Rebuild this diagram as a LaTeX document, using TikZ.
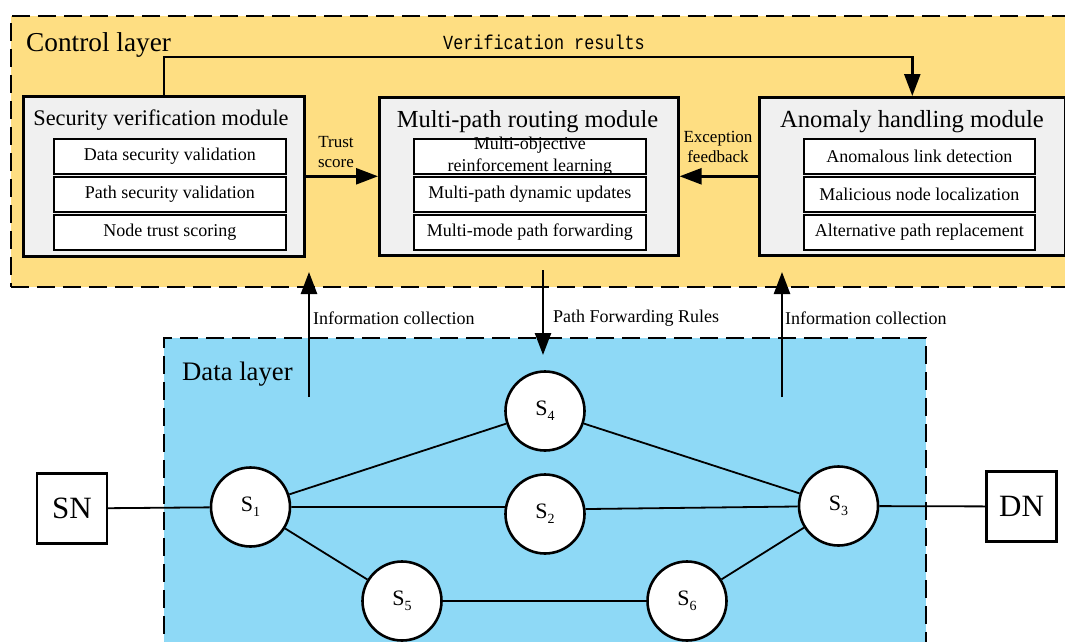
\documentclass[tikz,border=0pt]{standalone}
\usepackage{fontspec}
\setmainfont{Liberation Serif}
\newfontfamily\vmono{Liberation Mono}
\usetikzlibrary{arrows.meta}
\definecolor{ctrlfill}{RGB}{254,222,130}
\definecolor{datafill}{RGB}{142,217,246}
\definecolor{modfill}{RGB}{240,240,240}
\newcommand{\fsz}[1]{\fontsize{#1}{#1}\selectfont}
\newcommand{\Slabel}[1]{{\fsz{22}S}\raisebox{-5pt}{\fsz{14}#1}}
\begin{document}
\begin{tikzpicture}[x=1pt,y=-1pt,
  layerbox/.style={draw, line width=1.6pt, dash pattern=on 18pt off 8pt, anchor=north west, inner sep=0pt},
  modbox/.style={draw, line width=2.6pt, fill=modfill, anchor=north west, inner sep=0pt},
  subbox/.style={draw, line width=1.8pt, fill=white, anchor=north west, inner sep=0pt,
                 minimum height=35pt, minimum width=232pt, font=\fsz{18}},
  title/.style={inner sep=0pt},
  lbl/.style={inner sep=0pt, font=\fsz{18}},
  arr/.style={line width=2.5pt, -{Triangle[length=22pt,width=16pt]}},
  circ/.style={circle, draw, line width=2.6pt, fill=white, minimum size=79pt, inner sep=0pt},
  sqbox/.style={draw, line width=2.3pt, fill=white, minimum width=70pt, minimum height=70pt, inner sep=0pt, font=\fsz{31}},
  link/.style={line width=1.8pt}
]
\useasboundingbox (0,0) rectangle (1065,642);

% layers
\node[layerbox, fill=ctrlfill, minimum width=1070pt, minimum height=271pt] (ctrl) at (10,15) {};
\node[layerbox, fill=datafill, minimum width=762pt, minimum height=330pt] (data) at (163,337) {};
\node[title, anchor=west, font=\fsz{27.3}] (ctrltxt) at (26,45) {Control layer};
\node[title, anchor=west, font=\fsz{26.7}] (datatxt) at (182,374) {Data layer};

% modules
\node[modbox, minimum width=281pt, minimum height=160pt] (sec) at (22,95) {};
\node[modbox, minimum width=299pt, minimum height=158pt] (rout) at (378,96) {};
\node[modbox, minimum width=306pt, minimum height=158pt] (anom) at (758,96) {};

\node[title, font=\fsz{22.3}] (sectitle) at (161,120) {Security verification module};
\node[title, font=\fsz{24.5}] (routtitle) at (527.5,122) {Multi-path routing module};
\node[title, font=\fsz{24.6}] (anomtitle) at (912,122) {Anomaly handling module};

\node[subbox] (sa) at (53,138) {Data security validation};
\node[subbox] (sb) at (53,176) {Path security validation};
\node[subbox] (sc) at (53,214) {Node trust scoring};

\node[subbox] (ra) at (413,138) {};
\node[inner sep=0pt, align=center, font=\fontsize{18}{22}\selectfont] (ratxt) at (ra.center) {Multi-objective\\reinforcement learning};
\node[subbox] (rb) at (413,176) {Multi-path dynamic updates};
\node[subbox] (rc) at (413,214) {Multi-mode path forwarding};

\node[subbox, minimum width=231pt] (aa) at (803,138) {Anomalous link detection};
\node[subbox, minimum width=231pt] (ab) at (803,176) {Malicious node localization};
\node[subbox, minimum width=231pt] (ac) at (803,214) {Alternative path replacement};

% control-layer connectors
\draw[arr] (sec.north) -- ++(0,-38) -| (anom.north);
\node[inner sep=0pt] (vres) at (544,42) {\scalebox{0.84}[1]{\vmono\fsz{20}Verification results}};
\draw[arr] (sec.east) -- (rout.west);
\node[inner sep=0pt, align=center, font=\fontsize{17}{20}\selectfont] (trust) at (336,152) {Trust\\score};
\draw[arr] (anom.west) -- (rout.east);
\node[inner sep=0pt, align=center, font=\fontsize{17}{20}\selectfont] (excf) at (718,147) {Exception\\feedback};

% inter-layer arrows
\coordinate (icLa) at (309,397);
\coordinate (icLb) at (309,272);
\coordinate (pfa) at (543,270);
\coordinate (pfb) at (543,355);
\coordinate (icRa) at (782,397);
\coordinate (icRb) at (782,272);
\draw[arr] (icLa) -- (icLb);
\draw[arr] (pfa) -- (pfb);
\draw[arr] (icRa) -- (icRb);
\node[lbl, anchor=west] (icL) at (313,318) {Information collection};
\node[lbl, anchor=west] (pfr) at (553,318) {Path Forwarding Rules};
\node[lbl, anchor=west] (icR) at (785,318) {Information collection};

% data-layer network
\node[sqbox] (SN) at (72,508.5) {SN};
\node[sqbox] (DN) at (1021.5,506.5) {DN};
\node[circ] (S1) at (250.5,507) {\Slabel{1}};
\node[circ] (S2) at (545,514) {\Slabel{2}};
\node[circ] (S3) at (838.5,506) {\Slabel{3}};
\node[circ] (S4) at (545,411) {\Slabel{4}};
\node[circ] (S5) at (402,601) {\Slabel{5}};
\node[circ] (S6) at (687,601) {\Slabel{6}};

\draw[link] (SN) -- (S1);
\draw[link] (S1) -- (S4);
\draw[link] (S1) -- (S2.170);
\draw[link] (S1) -- (S5);
\draw[link] (S4) -- (S3);
\draw[link] (S2.7) -- (S3);
\draw[link] (S5) -- (S6);
\draw[link] (S6) -- (S3);
\draw[link] (S3) -- (DN);
\end{tikzpicture}
\end{document}
